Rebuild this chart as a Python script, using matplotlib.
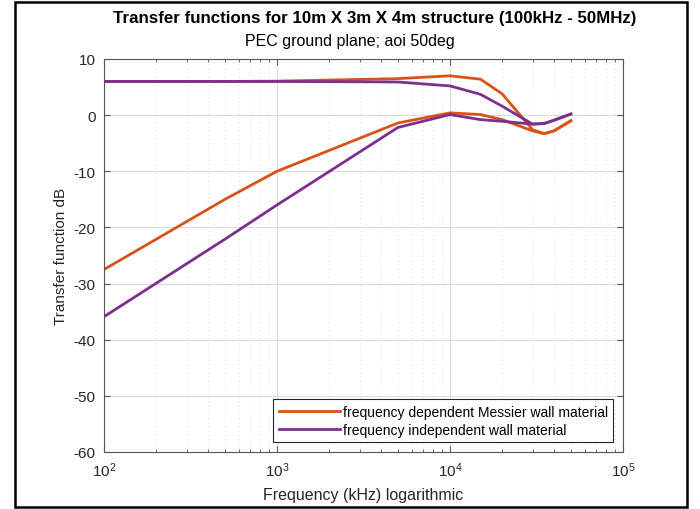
"""
Transfer functions 10m x 3m x 4m structure, PEC ground plane, aoi 50deg.
"""
import matplotlib
matplotlib.use("Agg")
import matplotlib.pyplot as plt
import matplotlib.patches as mpatches
from matplotlib.ticker import LogLocator, NullFormatter, FixedLocator

plt.rcParams["font.family"] = ["Liberation Sans", "DejaVu Sans"]
plt.rcParams["axes.unicode_minus"] = False

COLORS = {
    "dep":   "#D95319",
    "indep": "#7E2F8E",
}

# frequenze in kHz
freq_khz = [100, 500, 1000, 5000, 10000, 15000, 20000, 30000, 35000, 40000, 50000]

# Messier (frequency dependent)
dep_upper = [6.0, 6.0, 6.05, 6.5, 7.0, 6.4, 3.8, -2.6, -3.3, -2.8, -1.0]
dep_lower = [-27.5, -15.0, -10.0, -1.4, 0.4, 0.1, -0.8, -2.8, -3.3, -2.8, -1.0]

# frequency independent
ind_upper = [6.0, 6.0, 6.0, 5.9, 5.2, 3.7, 1.6, -1.6, -1.5, -0.9, 0.2]
ind_lower = [-35.9, -22.1, -16.0, -2.2, 0.1, -0.8, -1.1, -1.6, -1.5, -0.9, 0.2]

y_ticks = [-60, -50, -40, -30, -20, -10, 0, 10]

fig = plt.figure(figsize=(7.0, 5.1), dpi=100)
ax = fig.add_axes([0.1486, 0.1118, 0.7414, 0.7706])

ax.plot(freq_khz, dep_upper, color=COLORS["dep"], lw=2,
        label="frequency dependent Messier wall material")
ax.plot(freq_khz, dep_lower, color=COLORS["dep"], lw=2)
ax.plot(freq_khz, ind_upper, color=COLORS["indep"], lw=2,
        label="frequency independent wall material")
ax.plot(freq_khz, ind_lower, color=COLORS["indep"], lw=2)

ax.set_xscale("log")
ax.set_xlim(1e2, 1e5)
ax.set_ylim(-60, 10)
ax.yaxis.set_major_locator(FixedLocator(y_ticks))
ax.xaxis.set_minor_locator(LogLocator(base=10, subs=range(2, 10)))
ax.xaxis.set_minor_formatter(NullFormatter())

# griglia stile MATLAB
ax.grid(True, which="major", color="#dcdcdc", lw=0.8)
ax.grid(True, which="minor", axis="x", color="#d2d2d2", lw=0.6, linestyle=(0, (1, 4)))
ax.set_axisbelow(True)

for sp in ax.spines.values():
    sp.set_color("#555555")
    sp.set_linewidth(0.8)
ax.tick_params(which="both", direction="in", top=True, right=True,
               colors="#555555", labelcolor="#262626", labelsize=11, pad=6)
ax.tick_params(which="major", length=4)
ax.tick_params(which="minor", length=2)

ax.set_xlabel("Frequency (kHz) logarithmic", fontsize=11.5, color="#262626", labelpad=6)
ax.set_ylabel("Transfer function dB", fontsize=11, color="#262626")

fig.text(0.535, 0.963, "Transfer functions for 10m X 3m X 4m structure (100kHz - 50MHz)",
         ha="center", va="center", fontsize=12.2, fontweight="bold")
fig.text(0.5, 0.919, "PEC ground plane; aoi 50deg",
         ha="center", va="center", fontsize=11.5)

leg = ax.legend(loc="lower right", fontsize=10, fancybox=False, framealpha=1,
                edgecolor="#262626", borderaxespad=0.7, handlelength=4.4,
                handletextpad=0.2, labelspacing=0.3, borderpad=0.4)
leg.get_frame().set_linewidth(0.8)

# cornice esterna
fig.patches.append(mpatches.Rectangle((15 / 700, 2 / 510), 672 / 700, 505 / 510,
                                      transform=fig.transFigure, fill=False,
                                      edgecolor="black", lw=1.8))

fig.savefig("out.png", dpi=100)
